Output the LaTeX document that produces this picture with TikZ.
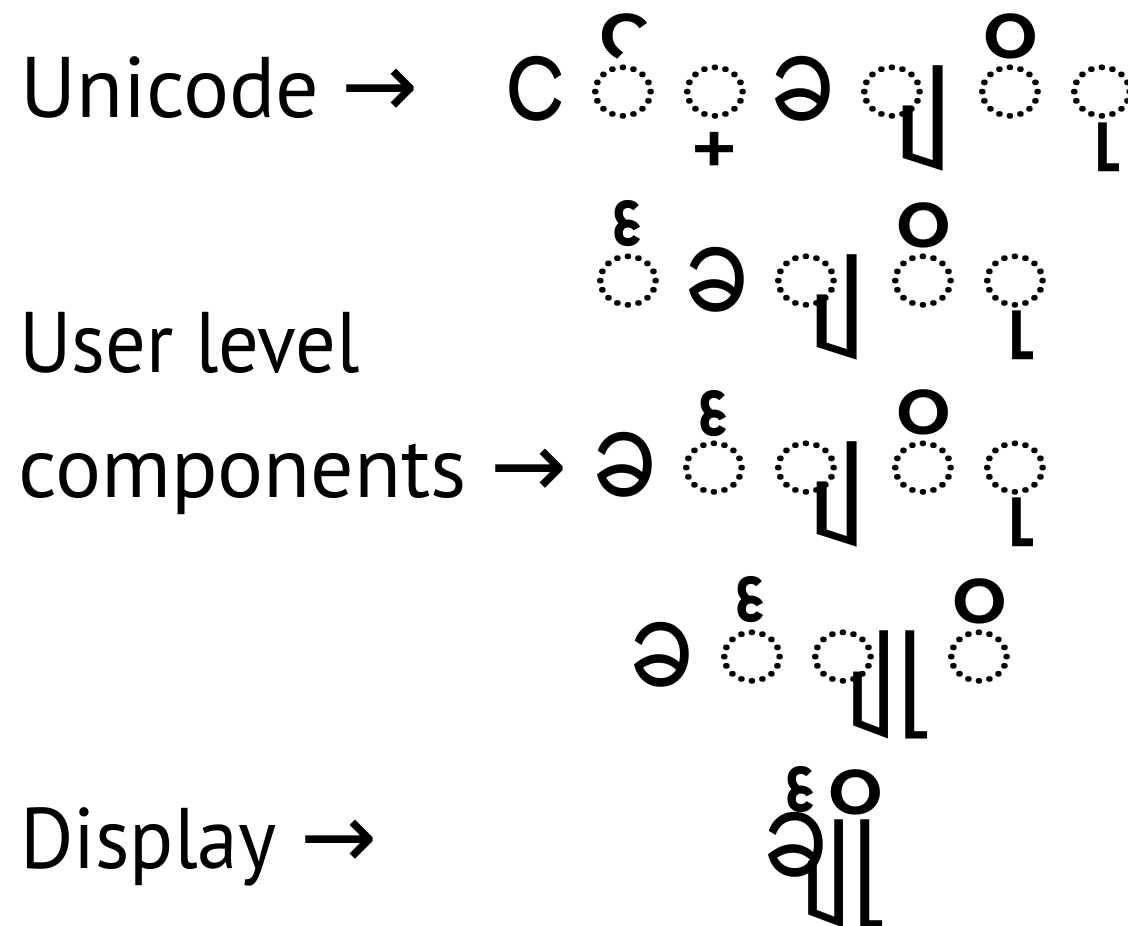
\documentclass[tikz,border=0pt]{standalone}
\usepackage{fontspec}
\usepackage{graphicx}
\setmainfont{PT Sans}
\newfontfamily\mmb[Script=Myanmar,FakeStretch=0.74]{Noto Sans Myanmar UI}
\newfontfamily\mmc[Script=Myanmar,FakeStretch=1.14]{Noto Sans Myanmar UI}
\newfontfamily\mmm[Script=Myanmar]{Noto Sans Myanmar UI}
\newfontfamily\mmu[Script=Myanmar,FakeStretch=0.75]{Noto Sans Myanmar UI}
\newfontfamily\mmk[Script=Myanmar,FakeStretch=0.87]{Noto Sans Myanmar UI}
\newfontfamily\mmy[Script=Myanmar,FakeStretch=0.85]{Noto Sans Myanmar UI}
\newfontfamily\arrfont{DejaVu Sans}
\newcommand\nb{^^^^00a0}
\begin{document}
\begin{tikzpicture}[x=1pt,y=-1pt]
\tikzset{
  lab/.style={anchor=base west, inner sep=0pt, font=\fontsize{86}{90}\selectfont},
  basech/.style={inner sep=0pt, anchor=north, font=\mmb\fontsize{130}{130}\selectfont},
  circ/.style={inner sep=0pt, anchor=north, font=\mmc\fontsize{109}{110}\selectfont},
  asat/.style={inner sep=0pt, anchor=north, font=\mmm\fontsize{134}{134}\selectfont},
  virama/.style={inner sep=0pt, anchor=south, font=\mmm\fontsize{117}{117}\selectfont},
  medya/.style={inner sep=0pt, anchor=north, font=\mmm\fontsize{117}{117}\selectfont},
  vowi/.style={inner sep=0pt, anchor=north, font=\mmm\fontsize{134}{134}\selectfont},
  vowu/.style={inner sep=0pt, anchor=south, font=\mmu\fontsize{130}{130}\selectfont},
  kinzi/.style={inner sep=0pt, anchor=north, font=\mmk\fontsize{136}{136}\selectfont},
  yau/.style={inner sep=0pt, anchor=north, font=\mmy\fontsize{120}{120}\selectfont},
}
\useasboundingbox (0,0) rectangle (1128,926);
% labels
\node[lab] (l1) at (20,117) {Unicode\hspace{22pt}{\arrfont\fontsize{92}{96}\selectfont →}};
\node[lab] (l2) at (19,372) {\scalebox{0.935}[1]{User level}};
\node[lab] (l3) at (18,497) {components\hspace{24pt}{\arrfont\fontsize{92}{96}\selectfont →}};
\node[lab] (l4) at (20,868) {\scalebox{0.95}[1]{Display}\hspace{24pt}{\arrfont\fontsize{92}{96}\selectfont →}};
% row 1: Unicode
\node[basech] (a1) at (536,56.4) {င};
\node[circ] (a2c) at (623.5,65) {◌};
\node[asat] (a2m) at (650.5,13.4) {\nb ်};
\node[circ] (a3c) at (715,65) {◌};
\node[virama] (a3m) at (736.6,166) {\nb ္};
\node[basech] (a4) at (803,56.4) {ခ};
\node[circ] (a5c) at (892.5,65) {◌};
\node[medya] (a5m) at (922,65) {\nb ျ};
\node[circ] (a6c) at (1010,65) {◌};
\node[vowi] (a6m) at (1033.9,13) {\nb ိ};
\node[circ] (a7c) at (1102,65) {◌};
\node[vowu] (a7m) at (1122.1,172) {\nb ု};
% row 2: user level components
\node[circ] (b1c) at (628.5,254) {◌};
\node[kinzi] (b1m) at (652.1,200) {င်္\nb};
\node[basech] (b2) at (717.5,247.4) {ခ};
\node[circ] (b3c) at (806,254) {◌};
\node[medya] (b3m) at (836,254) {\nb ျ};
\node[circ] (b4c) at (923.5,254) {◌};
\node[vowi] (b4m) at (947.4,202) {\nb ိ};
\node[circ] (b5c) at (1015,254) {◌};
\node[vowu] (b5m) at (1035.6,360) {\nb ု};
% row 3
\node[basech] (c1) at (625,432.4) {ခ};
\node[circ] (c2c) at (714,441) {◌};
\node[kinzi] (c2m) at (738.1,390) {င်္\nb};
\node[circ] (c3c) at (806,441) {◌};
\node[medya] (c3m) at (836,441) {\nb ျ};
\node[circ] (c4c) at (923.5,441) {◌};
\node[vowi] (c4m) at (947.4,389) {\nb ိ};
\node[circ] (c5c) at (1015,441) {◌};
\node[vowu] (c5m) at (1035.6,547) {\nb ု};
% row 4
\node[basech] (d1) at (662.5,622.4) {ခ};
\node[circ] (d2c) at (752,630) {◌};
\node[kinzi] (d2m) at (775.1,576) {င်္\nb};
\node[circ] (d3c) at (843,630) {◌};
\node[yau] (d3m) at (884,631) {\nb ျု};
\node[circ] (d4c) at (979,630) {◌};
\node[vowi] (d4m) at (1002.9,578) {\nb ိ};
% row 5: display
\node[basech] (e1) at (796.5,812.4) {ခ};
\node[yau] (e2) at (839,820) {\nb ျု};
\node[kinzi] (e3) at (825.1,766) {င်္\nb};
\node[vowi] (e4) at (879.4,769) {\nb ိ};
\end{tikzpicture}
\end{document}
